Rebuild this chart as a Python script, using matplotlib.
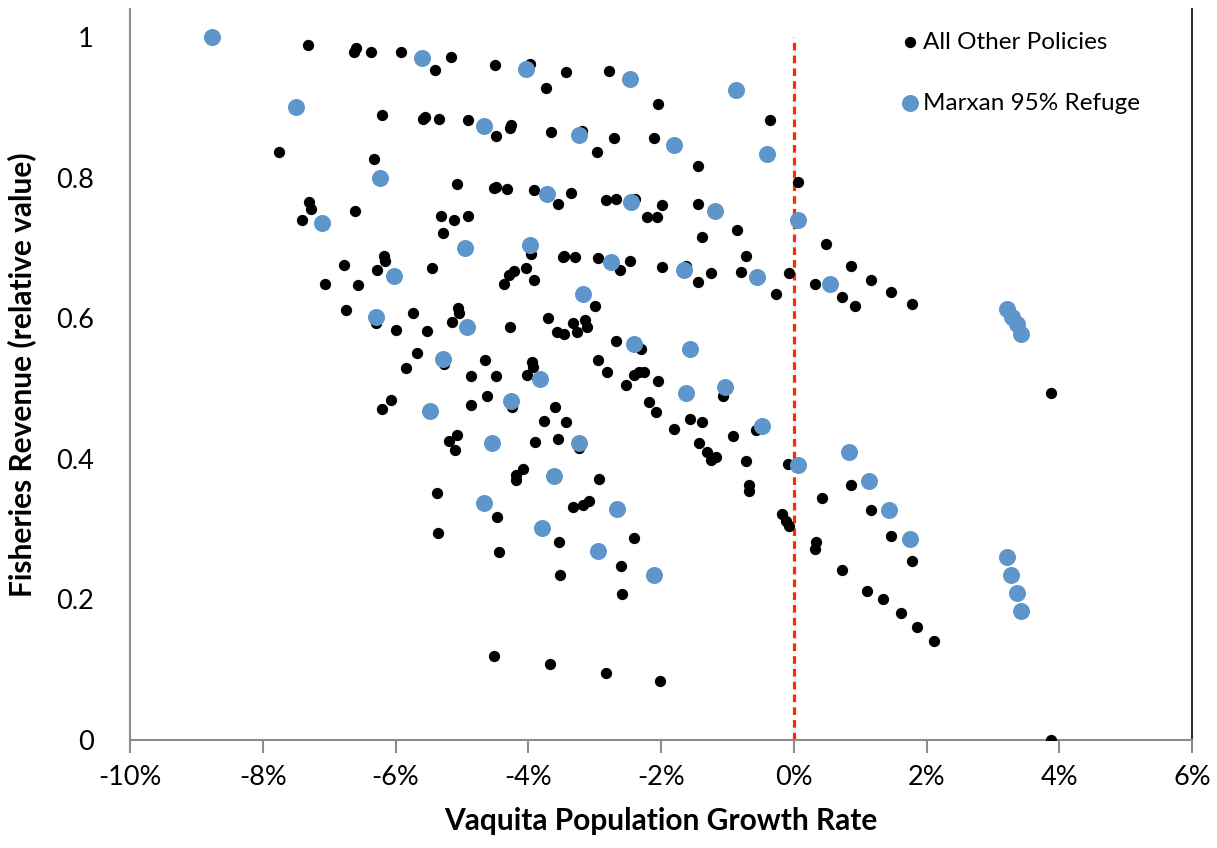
import matplotlib
matplotlib.use("Agg")
import matplotlib.pyplot as plt
from matplotlib.ticker import FixedLocator, FuncFormatter

# ---- data (growth rate in %, revenue relative) ----
other_x = [-7.32, -6.63, -6.59, -6.37, -5.91, -5.40, -5.17, -4.50, -3.97, -3.43,
           -3.73, -2.79, -2.05, -6.21, -5.58, -5.55, -5.34, -4.91, -4.48, -4.26,
           -4.28, -3.66, -3.19, -2.71, -2.96, -2.11, -0.36, -1.45, 0.06, -7.76,
           -6.32, -7.30, -7.27, -7.41, -6.61, -5.08, -4.52, -4.49, -4.32, -3.92,
           -3.55, -3.36, -2.83, -2.68, -2.39, -1.99, -1.45, -2.21, -2.06, -5.31,
           -5.12, -4.91, -5.29, -0.86, -1.38, 0.49, -0.72, -3.96, -3.48, -3.46,
           -3.29, -2.95, -2.46, -6.18, -6.16, -6.78, -6.28, -5.45, -4.37, -4.29,
           -4.22, -4.03, -3.91, -2.62, -1.99, -1.63, -1.44, -1.24, -0.79, -0.27,
           -0.07, 0.32, 0.86, 0.72, 0.92, 1.16, 1.46, 1.78, -7.06, -6.56,
           -6.74, -6.29, -5.99, -6.07, -6.21, -2.99, -5.73, -5.06, -5.04, -5.15,
           -5.52, -4.28, -3.70, -3.56, -3.46, -3.32, -3.26, -3.15, -3.11, -2.68,
           -2.30, -5.67, -5.84, -5.27, -4.65, -4.87, -4.48, -3.94, -3.93, -4.02,
           -2.95, -2.81, -2.41, -2.33, -2.26, -2.53, -2.05, -2.18, -2.07, -4.87,
           -4.62, -4.24, -3.59, -3.77, -3.43, -5.08, -5.20, -5.11, -3.90, -3.55,
           -3.24, -4.19, -4.08, -4.19, -2.93, -5.38, -3.32, -3.18, -3.08, -4.47,
           -5.36, -3.53, -4.44, -2.41, -3.52, -2.61, -2.59, -4.51, -3.67, -2.83,
           -2.01, -1.06, -1.56, -1.38, -1.81, -0.92, -0.57, -1.42, -1.31, -1.24,
           -1.17, -0.72, -0.08, -0.67, -0.67, 0.86, 0.42, 1.16, -0.17, -0.12,
           -0.07, 1.46, 0.34, 0.32, 1.78, 0.72, 1.11, 1.35, 1.61, 1.85,
           2.11, 3.88, 3.88]
other_y = [0.989, 0.979, 0.984, 0.979, 0.978, 0.953, 0.972, 0.960, 0.962, 0.950,
           0.928, 0.951, 0.905, 0.889, 0.883, 0.886, 0.883, 0.882, 0.859, 0.875,
           0.871, 0.865, 0.866, 0.856, 0.836, 0.856, 0.882, 0.816, 0.794, 0.837,
           0.826, 0.765, 0.756, 0.740, 0.753, 0.791, 0.785, 0.787, 0.784, 0.782,
           0.762, 0.778, 0.768, 0.770, 0.770, 0.761, 0.762, 0.744, 0.744, 0.745,
           0.740, 0.746, 0.721, 0.726, 0.716, 0.706, 0.688, 0.692, 0.687, 0.688,
           0.687, 0.685, 0.681, 0.688, 0.682, 0.675, 0.668, 0.672, 0.649, 0.661,
           0.667, 0.672, 0.654, 0.668, 0.673, 0.674, 0.651, 0.665, 0.666, 0.634,
           0.665, 0.648, 0.674, 0.630, 0.618, 0.655, 0.637, 0.620, 0.648, 0.647,
           0.611, 0.593, 0.583, 0.483, 0.471, 0.618, 0.608, 0.614, 0.607, 0.594,
           0.582, 0.587, 0.600, 0.581, 0.577, 0.593, 0.580, 0.597, 0.587, 0.567,
           0.556, 0.550, 0.529, 0.535, 0.541, 0.518, 0.518, 0.537, 0.530, 0.519,
           0.541, 0.523, 0.519, 0.523, 0.523, 0.505, 0.510, 0.481, 0.466, 0.477,
           0.489, 0.474, 0.473, 0.454, 0.453, 0.434, 0.425, 0.412, 0.424, 0.428,
           0.415, 0.377, 0.385, 0.370, 0.371, 0.352, 0.332, 0.334, 0.340, 0.317,
           0.295, 0.282, 0.267, 0.288, 0.235, 0.247, 0.207, 0.119, 0.108, 0.096,
           0.084, 0.490, 0.457, 0.453, 0.442, 0.433, 0.441, 0.422, 0.409, 0.398,
           0.402, 0.397, 0.393, 0.363, 0.354, 0.363, 0.344, 0.327, 0.321, 0.311,
           0.304, 0.290, 0.281, 0.272, 0.255, 0.242, 0.212, 0.200, 0.181, 0.161,
           0.141, 0.494, 0.000]

marxan_x = [-8.76, -7.50, -6.23, -4.96, -5.60, -4.03, -2.46, -0.87, -4.66, -3.24,
            -1.81, -0.41, -7.11, -3.71, -2.45, -1.19, 0.07, -3.97, -2.76, -1.65,
            -0.56, 0.55, -6.03, -6.29, -4.92, -3.18, -2.40, -1.56, -5.28, -3.82,
            -1.62, -1.03, -0.48, 0.07, 0.83, 1.14, 1.44, 1.75, -5.48, -4.26,
            -4.54, -3.24, -3.61, -4.66, -3.80, -2.67, -2.95, -2.10, 3.22, 3.29,
            3.36, 3.42, 3.22, 3.28, 3.36, 3.42]
marxan_y = [1.000, 0.900, 0.800, 0.700, 0.970, 0.954, 0.940, 0.925, 0.873, 0.860,
            0.846, 0.833, 0.735, 0.776, 0.765, 0.753, 0.740, 0.704, 0.680, 0.668,
            0.659, 0.648, 0.660, 0.601, 0.588, 0.634, 0.564, 0.556, 0.542, 0.514,
            0.493, 0.502, 0.447, 0.391, 0.409, 0.368, 0.327, 0.286, 0.468, 0.482,
            0.422, 0.422, 0.375, 0.337, 0.302, 0.329, 0.269, 0.235, 0.613, 0.602,
            0.592, 0.578, 0.261, 0.235, 0.209, 0.183]

x_ticks = [-10, -8, -6, -4, -2, 0, 2, 4, 6]
y_ticks = [0, 0.2, 0.4, 0.6, 0.8, 1.0]
y_tick_labels = ["0", "0.2", "0.4", "0.6", "0.8", "1"]
series_labels = ["All Other Policies", "Marxan 95% Refuge"]

# ---- figure ----
plt.rcParams['font.family'] = ['Lato', 'DejaVu Sans']
W, H = 1217, 848
fig = plt.figure(figsize=(W / 100, H / 100), dpi=100)
left, right, bottom, top = 130, 1192, 740, 9
ax = fig.add_axes([left / W, 1 - bottom / H, (right - left) / W, (bottom - top) / H])

ax.set_xlim(-10, 6)
ax.set_ylim(0, (bottom - top) / 703.0)

blue = '#5E96CC'
ax.scatter(other_x, other_y, s=66, color='black', linewidths=0, zorder=3,
           label=series_labels[0])
ax.scatter(marxan_x, marxan_y, s=150, color=blue, linewidths=0, zorder=4,
           label=series_labels[1])

ax.vlines(0, 0, 1, colors='#FF2A00', linewidth=2.3, linestyles=(0, (2.4, 1.6)), zorder=2)

ax.xaxis.set_major_locator(FixedLocator(x_ticks))
ax.xaxis.set_major_formatter(FuncFormatter(lambda v, p: f"{int(round(v))}%"))
ax.set_yticks(y_ticks)
ax.set_yticklabels(y_tick_labels)
ax.tick_params(axis='x', direction='out', length=9, width=1.5, color='#8C8C8C',
               labelsize=19.5, pad=9)
ax.tick_params(axis='y', length=0, labelsize=19.5, pad=26)

for s in ['left', 'bottom']:
    ax.spines[s].set_color('#8C8C8C')
    ax.spines[s].set_linewidth(1.5)
ax.spines['top'].set_visible(False)
ax.spines['right'].set_color('#333333')
ax.spines['right'].set_linewidth(1.5)

ax.set_xlabel("Vaquita Population Growth Rate", fontsize=21.5, fontweight='bold', labelpad=12)
ax.set_ylabel("Fisheries Revenue (relative value)", fontsize=21.5, fontweight='bold', labelpad=14)

leg = ax.legend(loc='upper left', bbox_to_anchor=((888 - left) / (right - left), 1.0 - (22 - top) / (bottom - top)),
                frameon=False, fontsize=17.5, labelspacing=1.65, handletextpad=0.05,
                handlelength=1.0, borderaxespad=0, markerscale=1.0)

fig.savefig("out.png", dpi=100)
